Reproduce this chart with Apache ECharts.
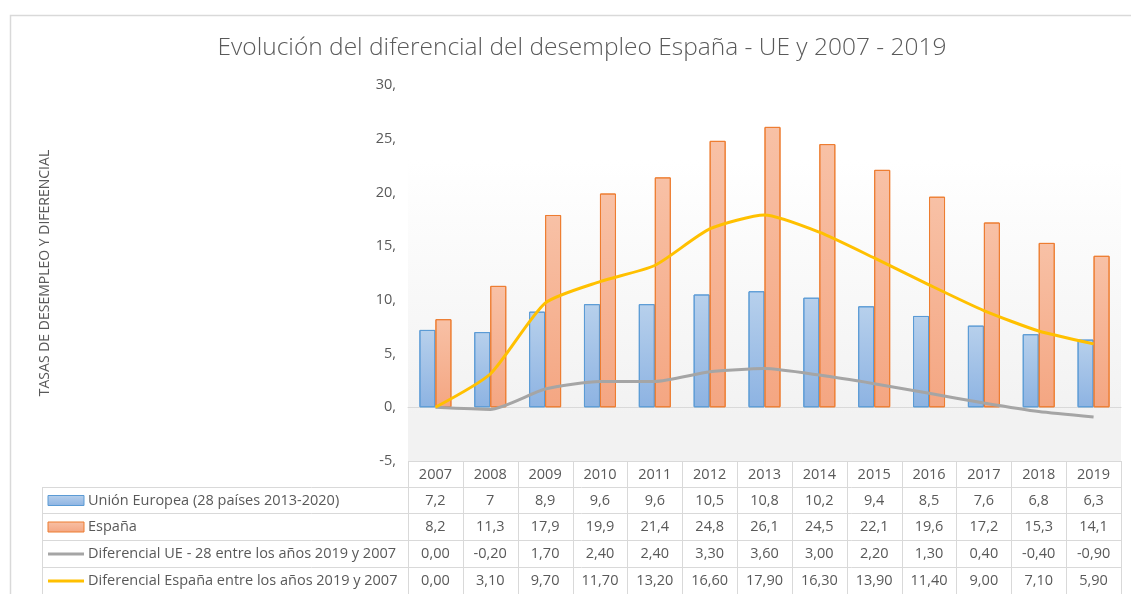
<!DOCTYPE html>
<html style="height: 100%">
<head>
<meta charset="utf-8">
<script src="https://cdn.jsdelivr.net/npm/echarts@6/dist/echarts.min.js"></script>
</head>
<body style="height: 100%; margin: 0; background: #fff">
<div id="container" style="width: 1131px; height: 594px"></div>
<script>
// datos
var years = ['2007','2008','2009','2010','2011','2012','2013','2014','2015','2016','2017','2018','2019'];
var ue = [7.2, 7, 8.9, 9.6, 9.6, 10.5, 10.8, 10.2, 9.4, 8.5, 7.6, 6.8, 6.3];
var espana = [8.2, 11.3, 17.9, 19.9, 21.4, 24.8, 26.1, 24.5, 22.1, 19.6, 17.2, 15.3, 14.1];
var difUe = [0, -0.2, 1.7, 2.4, 2.4, 3.3, 3.6, 3.0, 2.2, 1.3, 0.4, -0.4, -0.9];
var difEspana = [0, 3.1, 9.7, 11.7, 13.2, 16.6, 17.9, 16.3, 13.9, 11.4, 9.0, 7.1, 5.9];
var seriesNames = ['Unión Europea (28 países 2013-2020)', 'España',
    'Diferencial UE - 28 entre los años 2019 y 2007', 'Diferencial España entre los años 2019 y 2007'];

var FONT = '"Open Sans", sans-serif';
var TXT = '#595959';
var GRID = '#d9d9d9';

var dom = document.getElementById('container');
var myChart = echarts.init(dom);

function grad(top, bottom) {
    return new echarts.graphic.LinearGradient(0, 0, 0, 1, [
        {offset: 0, color: top}, {offset: 1, color: bottom}
    ]);
}

var option = {
    animation: false,
    title: {
        text: 'Evolución del diferencial del desempleo España - UE y 2007 - 2019',
        left: 577,
        top: 31,
        textAlign: 'center',
        textStyle: {color: TXT, fontSize: 24.5, fontWeight: 300, fontFamily: FONT}
    },
    grid: {
        left: 408, right: 10, top: 85, bottom: 133,
        show: true, borderWidth: 0,
        backgroundColor: new echarts.graphic.LinearGradient(0, 0, 0, 1, [
            {offset: 0, color: '#ffffff'},
            {offset: 0.2, color: '#ffffff'},
            {offset: 0.88, color: '#f2f2f2'},
            {offset: 1, color: '#f2f2f2'}
        ])
    },
    xAxis: {
        type: 'category',
        data: years,
        axisLine: {onZero: true, lineStyle: {color: GRID, width: 1}},
        axisTick: {show: false},
        axisLabel: {show: false}
    },
    yAxis: {
        type: 'value',
        min: -5, max: 30, interval: 5,
        name: 'TASAS DE DESEMPLEO Y DIFERENCIAL',
        nameLocation: 'middle',
        nameGap: 356,
        nameRotate: 90,
        nameTextStyle: {color: TXT, fontSize: 14, fontFamily: FONT},
        splitLine: {show: false},
        axisLine: {show: false},
        axisTick: {show: false},
        axisLabel: {
            color: TXT, fontSize: 14.5, fontFamily: FONT, margin: 12,
            formatter: function (v) { return v + ','; }
        }
    },
    series: [{
        name: seriesNames[0], type: 'bar', data: ue,
        barWidth: 16, barGap: '0%',
        itemStyle: {color: grad('#b7d0ec', '#8db3e2'), borderColor: '#5b9bd5', borderWidth: 1}
    }, {
        name: seriesNames[1], type: 'bar', data: espana,
        barWidth: 16, barGap: '0%',
        itemStyle: {color: grad('#f8c1a6', '#f4a682'), borderColor: '#ed7d31', borderWidth: 1}
    }, {
        name: seriesNames[2], type: 'line', data: difUe,
        smooth: 0.2, showSymbol: false,
        lineStyle: {color: '#a5a5a5', width: 3}
    }, {
        name: seriesNames[3], type: 'line', data: difEspana,
        smooth: 0.2, showSymbol: false,
        lineStyle: {color: '#ffc000', width: 3}
    }]
};

myChart.setOption(option);

// tabla de datos debajo del grafico
function fmt1(v) { return String(v).replace('.', ','); }
function fmt2(v) { return v.toFixed(2).replace('.', ','); }

function buildTable() {
    var els = [];
    var c0 = myChart.convertToPixel({xAxisIndex: 0}, 0);
    var c1 = myChart.convertToPixel({xAxisIndex: 0}, 1);
    var w = c1 - c0;
    var left = c0 - w / 2;
    var right = left + w * years.length;
    var legLeft = 42;
    var rowY = [461, 487, 513, 540, 567, 594];
    var rowVals = [ue.map(fmt1), espana.map(fmt1), difUe.map(fmt2), difEspana.map(fmt2)];

    function line(x1, y1, x2, y2) {
        els.push({type: 'line', silent: true,
            shape: {x1: x1, y1: y1, x2: x2, y2: y2},
            style: {stroke: GRID, lineWidth: 1}});
    }
    function text(x, y, s, align) {
        els.push({type: 'text', silent: true, x: x, y: y,
            style: {text: s, fill: TXT, font: '14.5px ' + FONT,
                textAlign: align, textVerticalAlign: 'middle',
                align: align, verticalAlign: 'middle'}});
    }

    // lineas horizontales
    line(left, rowY[0] + 0.5, right, rowY[0] + 0.5);
    for (var r = 1; r < rowY.length; r++) {
        line(legLeft, rowY[r] + 0.5, right, rowY[r] + 0.5);
    }
    // lineas verticales
    line(legLeft + 0.5, rowY[1], legLeft + 0.5, rowY[5]);
    for (var i = 0; i <= years.length; i++) {
        var x = Math.round(left + w * i) + 0.5;
        line(x, rowY[0], x, rowY[5]);
    }
    // encabezado de años
    for (i = 0; i < years.length; i++) {
        text(left + w * (i + 0.5), (rowY[0] + rowY[1]) / 2 + 1, years[i], 'center');
    }
    // filas
    var keyFill = [grad('#b7d0ec', '#8db3e2'), grad('#f8c1a6', '#f4a682')];
    var keyStroke = ['#5b9bd5', '#ed7d31'];
    var lineCol = ['#a5a5a5', '#ffc000'];
    for (r = 0; r < 4; r++) {
        var cy = (rowY[r + 1] + rowY[r + 2]) / 2 + 0.5;
        if (r < 2) {
            els.push({type: 'rect', silent: true,
                shape: {x: 48, y: cy - 5, width: 36, height: 10},
                style: {fill: keyFill[r], stroke: keyStroke[r], lineWidth: 1}});
        } else {
            els.push({type: 'line', silent: true,
                shape: {x1: 48, y1: cy, x2: 84, y2: cy},
                style: {stroke: lineCol[r - 2], lineWidth: 3}});
        }
        text(88, cy, seriesNames[r], 'left');
        for (i = 0; i < years.length; i++) {
            text(left + w * (i + 0.5), cy, rowVals[r][i], 'center');
        }
    }
    // borde del area del grafico
    els.push({type: 'rect', silent: true, z: -1,
        shape: {x: 10.5, y: 15.5, width: 1200, height: 700},
        style: {fill: 'none', stroke: GRID, lineWidth: 1.5}});
    myChart.setOption({graphic: {elements: els}});
}
buildTable();
</script>
</body>
</html>
